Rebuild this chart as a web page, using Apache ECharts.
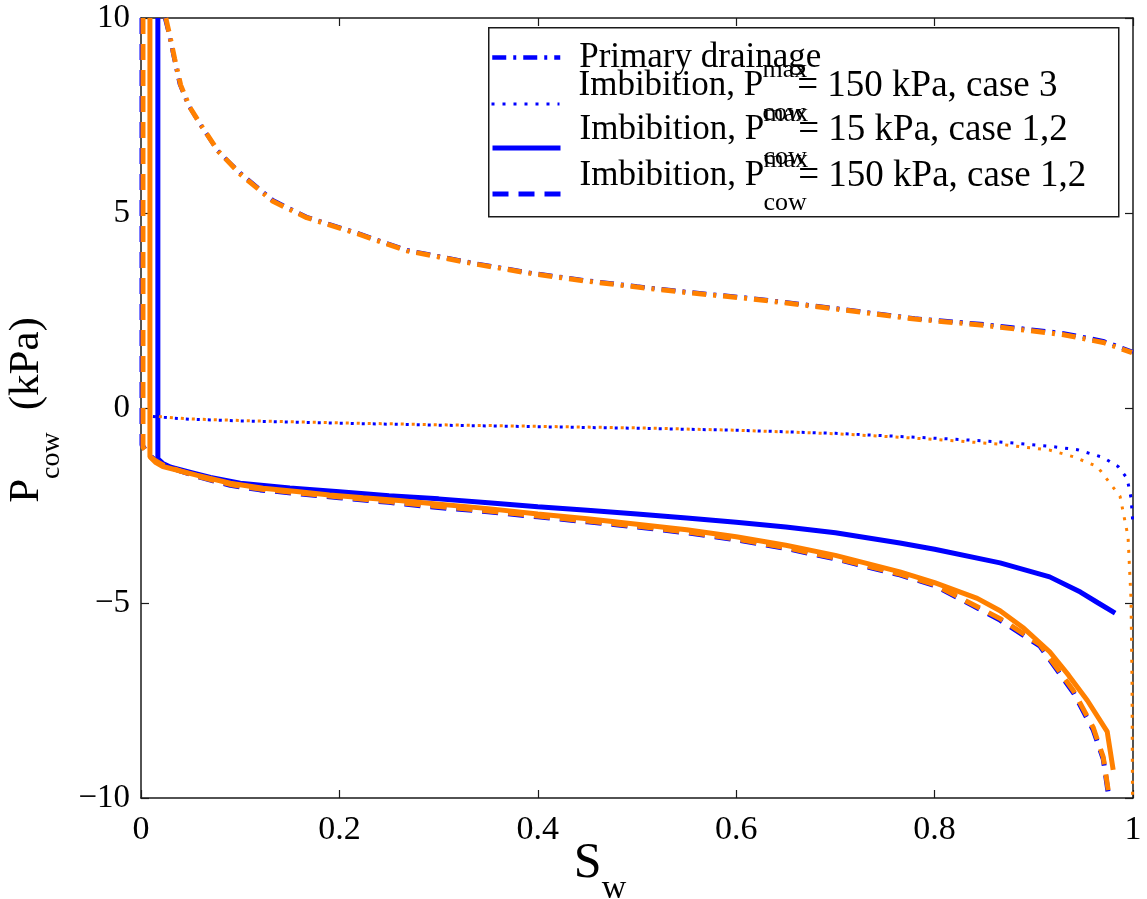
<!DOCTYPE html>
<html><head><meta charset="utf-8">
<script src="https://cdn.jsdelivr.net/npm/echarts@6/dist/echarts.min.js"></script>
<style>html,body{margin:0;padding:0;background:#fff}#c{width:1147px;height:899px}</style>
</head><body><div id="c"></div>
<script>
// ---- data: [Sw, Pcow (kPa)] ----
const drainBlue = [[0.024,10],[0.028,9.6],[0.033,9.0],[0.039,8.3],[0.048,7.75],[0.059,7.3],[0.077,6.6],[0.1,6.03],[0.133,5.33],[0.167,4.9],[0.218,4.49],[0.268,4.05],[0.335,3.72],[0.395,3.46],[0.447,3.28],[0.5,3.12],[0.55,2.98],[0.615,2.82],[0.7,2.56],[0.78,2.3],[0.85,2.15],[0.93,1.92],[0.97,1.72],[1.0,1.44]];
const drainOrange = [[0.025,10],[0.029,9.55],[0.034,8.95],[0.040,8.28],[0.049,7.72],[0.060,7.27],[0.078,6.58],[0.1,6.0],[0.133,5.3],[0.167,4.88],[0.218,4.47],[0.268,4.03],[0.335,3.7],[0.395,3.44],[0.447,3.26],[0.5,3.1],[0.55,2.96],[0.615,2.8],[0.7,2.54],[0.78,2.28],[0.85,2.12],[0.93,1.88],[0.97,1.68],[0.999,1.42]];
const imb3Blue = [[0.012,-0.22],[0.05,-0.29],[0.1,-0.33],[0.2,-0.39],[0.3,-0.44],[0.4,-0.48],[0.5,-0.52],[0.6,-0.57],[0.7,-0.65],[0.765,-0.73],[0.82,-0.8],[0.866,-0.87],[0.916,-0.98],[0.944,-1.07],[0.97,-1.27],[0.985,-1.5],[0.994,-1.8],[0.998,-2.3],[1.0,-3.0]];
const imb3Orange = [[0.012,-0.21],[0.05,-0.28],[0.1,-0.32],[0.2,-0.38],[0.3,-0.43],[0.4,-0.47],[0.5,-0.51],[0.6,-0.57],[0.7,-0.66],[0.765,-0.75],[0.82,-0.84],[0.866,-0.93],[0.916,-1.08],[0.94,-1.25],[0.964,-1.5],[0.987,-2.27],[0.995,-3.3],[0.998,-4.9],[0.999,-7.0],[0.9995,-10]];
const imb15Blue = [[0.017,10],[0.017,-1.3],[0.022,-1.42],[0.03,-1.52],[0.05,-1.65],[0.07,-1.78],[0.1,-1.93],[0.15,-2.05],[0.2,-2.15],[0.25,-2.25],[0.3,-2.33],[0.35,-2.43],[0.4,-2.53],[0.45,-2.62],[0.5,-2.72],[0.55,-2.82],[0.6,-2.93],[0.65,-3.05],[0.7,-3.2],[0.765,-3.46],[0.8,-3.62],[0.866,-3.97],[0.916,-4.33],[0.947,-4.72],[0.965,-5.0],[0.982,-5.26]];
const imb15Orange = [[0.009,10],[0.009,-1.25],[0.015,-1.4],[0.022,-1.5],[0.056,-1.72],[0.09,-1.93],[0.123,-2.06],[0.157,-2.14],[0.19,-2.23],[0.224,-2.3],[0.26,-2.37],[0.29,-2.44],[0.35,-2.58],[0.4,-2.72],[0.45,-2.84],[0.5,-2.98],[0.55,-3.12],[0.6,-3.3],[0.65,-3.52],[0.7,-3.78],[0.765,-4.2],[0.8,-4.48],[0.843,-4.88],[0.866,-5.2],[0.89,-5.65],[0.916,-6.25],[0.935,-6.85],[0.954,-7.5],[0.974,-8.3],[0.98,-9.28]];
const imb150Blue = [[0.001,10],[0.001,-0.95],[0.008,-1.2],[0.015,-1.35],[0.022,-1.45],[0.04,-1.62],[0.06,-1.78],[0.09,-1.98],[0.12,-2.1],[0.16,-2.2],[0.2,-2.3],[0.25,-2.42],[0.29,-2.53],[0.35,-2.66],[0.4,-2.79],[0.45,-2.92],[0.5,-3.05],[0.55,-3.2],[0.6,-3.38],[0.65,-3.6],[0.7,-3.87],[0.765,-4.28],[0.8,-4.55],[0.866,-5.44],[0.906,-6.1],[0.94,-7.3],[0.96,-8.26],[0.97,-9.0],[0.975,-9.87],[0.977,-10]];
const imb150Orange = [[0.002,10],[0.002,-1.0],[0.008,-1.22],[0.015,-1.36],[0.022,-1.46],[0.04,-1.62],[0.06,-1.77],[0.09,-1.96],[0.12,-2.08],[0.16,-2.18],[0.2,-2.28],[0.25,-2.4],[0.29,-2.5],[0.35,-2.64],[0.4,-2.77],[0.45,-2.9],[0.5,-3.03],[0.55,-3.18],[0.6,-3.36],[0.65,-3.58],[0.7,-3.85],[0.765,-4.26],[0.8,-4.53],[0.866,-5.4],[0.906,-6.06],[0.94,-7.25],[0.96,-8.2],[0.97,-8.95],[0.975,-9.8],[0.977,-10]];

const seriesNames = ['Primary drainage', 'Imbibition, Pmax cow = 150 kPa, case 3', 'Imbibition, Pmax cow = 15 kPa, case 1,2', 'Imbibition, Pmax cow = 150 kPa, case 1,2'];
const legendTails = ['', '= 150 kPa, case 3', '= 15 kPa, case 1,2', '= 150 kPa, case 1,2'];
const xTickLabels = ['0', '0.2', '0.4', '0.6', '0.8', '1'];

const BLUE = '#0000ff', ORANGE = '#ff8000';
const SERIF = 'Liberation Serif, Times New Roman, serif';
const DASHDOT = [14, 7, 3, 7], DOTTED = [3, 8], DASHED = [16, 10];

function line(name, data, color, width, type, extra) {
  return Object.assign({
    name, type: 'line', data, symbol: 'none', showSymbol: false, animation: false,
    lineStyle: { color, width, type, cap: 'butt' }, itemStyle: { color }
  }, extra || {});
}

const legendRich = {
  big: { fontFamily: SERIF, fontSize: 35, color: '#000', lineHeight: 40, verticalAlign: 'middle' },
  pad0: { width: 184, lineHeight: 12, fontSize: 10 },
  sp: { fontFamily: SERIF, fontSize: 26, color: '#000', lineHeight: 12, verticalAlign: 'middle' },
  m: { fontFamily: SERIF, fontSize: 35, color: '#000', lineHeight: 20, verticalAlign: 'middle' },
  t: { fontFamily: SERIF, fontSize: 37, color: '#000', lineHeight: 20, verticalAlign: 'middle' },
  w: { width: 34, lineHeight: 20, fontSize: 10 },
  pad2: { width: 184, lineHeight: 34, fontSize: 10 },
  sb: { fontFamily: SERIF, fontSize: 26, color: '#000', lineHeight: 34, verticalAlign: 'middle' },
  e: { lineHeight: 14, fontSize: 10 }
};
const legendTops = [40, 57, 101, 147];
const legendWidths = [4.5, 3, 5, 5];
const legends = seriesNames.map((nm, i) => ({
  data: [nm], orient: 'vertical', left: 490, top: legendTops[i], padding: 0,
  itemWidth: 68, itemHeight: 14, selectedMode: false, z: 5,
  itemStyle: { color: 'rgba(0,0,0,0)', borderWidth: 0, opacity: 0 },
  lineStyle: { width: legendWidths[i] },
  textStyle: { fontFamily: SERIF, fontSize: 35, color: '#000', padding: [0, 0, 0, 14], rich: legendRich },
  formatter: function (name) {
    const k = seriesNames.indexOf(name);
    if (k === 0) return '{big|Primary drainage}';
    return '{pad0| }{sp|max}\n{m|Imbibition, P}{w| }{t|' + legendTails[k] + '}\n{pad2| }{sb|cow}\n{e| }';
  }
}));

const chart = echarts.init(document.getElementById('c'), null, { renderer: 'canvas' });
const axisCol = '#1a1a1a';
chart.setOption({
  backgroundColor: '#fff',
  animation: false,
  grid: { left: 141, right: 14, top: 18, bottom: 101, containLabel: false, outerBoundsMode: 'none' },
  xAxis: [
    { type: 'value', min: 0, max: 1, interval: 0.2, position: 'bottom',
      axisLine: { onZero: false, lineStyle: { color: axisCol, width: 1.5 } },
      axisTick: { inside: true, length: 8, lineStyle: { color: axisCol, width: 1.2 } },
      splitLine: { show: false },
      axisLabel: { margin: 15, color: '#000', fontFamily: SERIF, fontSize: 34,
        formatter: (v) => { const i = Math.round(v / 0.2); return xTickLabels[i]; } },
      name: '{s|S}{w|w}', nameLocation: 'middle', nameGap: 41, nameMoveOverlap: false,
      nameTextStyle: { padding: [0, 74, 0, 0], rich: {
        s: { fontFamily: SERIF, fontSize: 50, color: '#000', verticalAlign: 'top', lineHeight: 67 },
        w: { fontFamily: SERIF, fontSize: 34, color: '#000', verticalAlign: 'bottom', lineHeight: 67 } } }
    },
    { type: 'value', min: 0, max: 1, interval: 0.2, position: 'top',
      axisLine: { onZero: false, lineStyle: { color: axisCol, width: 1.5 } },
      axisTick: { inside: true, length: 8, lineStyle: { color: axisCol, width: 1.2 } },
      axisLabel: { show: false }, splitLine: { show: false } }
  ],
  yAxis: [
    { type: 'value', min: -10, max: 10, interval: 5, position: 'left',
      axisLine: { show: true, onZero: false, lineStyle: { color: axisCol, width: 1.5 } },
      axisTick: { show: true, inside: true, length: 8, lineStyle: { color: axisCol, width: 1.2 } },
      splitLine: { show: false },
      axisLabel: { margin: 11, color: '#000', fontFamily: SERIF, fontSize: 33,
        formatter: (v) => String(v).replace('-', '\u2212') },
      name: '{p|P}{c|cow}{k|(kPa)}', nameLocation: 'middle', nameGap: 75, nameMoveOverlap: false,
      nameTextStyle: { padding: [0, 4, 0, 0], rich: {
        p: { fontFamily: SERIF, fontSize: 43, color: '#000', verticalAlign: 'top', lineHeight: 61 },
        c: { fontFamily: SERIF, fontSize: 28, color: '#000', verticalAlign: 'bottom', lineHeight: 61 },
        k: { fontFamily: SERIF, fontSize: 43, color: '#000', verticalAlign: 'top', lineHeight: 61, padding: [0, 0, 0, 22] } } }
    },
    { type: 'value', min: -10, max: 10, interval: 5, position: 'right',
      axisLine: { show: true, onZero: false, lineStyle: { color: axisCol, width: 1.5 } },
      axisTick: { show: true, inside: true, length: 8, lineStyle: { color: axisCol, width: 1.2 } },
      axisLabel: { show: false }, splitLine: { show: false } }
  ],
  graphic: [
    { type: 'rect', left: 488, top: 27, z: 3, shape: { width: 630, height: 189 },
      style: { fill: '#fff', stroke: axisCol, lineWidth: 1.5 } }
  ],
  legend: legends,
  series: [
    line(seriesNames[0], drainBlue, BLUE, 4, DASHDOT),
    line(seriesNames[1], imb3Blue, BLUE, 3, DOTTED),
    line(seriesNames[2], imb15Blue, BLUE, 5, 'solid'),
    line(seriesNames[3], imb150Blue, BLUE, 5, DASHED),
    line('drainage (orange)', drainOrange, ORANGE, 5, DASHDOT),
    line('case 3 (orange)', imb3Orange, ORANGE, 3, DOTTED, { lineStyle: { color: ORANGE, width: 3, type: DOTTED, dashOffset: 5, cap: 'butt' } }),
    line('15 kPa (orange)', imb15Orange, ORANGE, 5, 'solid'),
    line('150 kPa (orange)', imb150Orange, ORANGE, 5, DASHED)
  ]
});
</script></body></html>
